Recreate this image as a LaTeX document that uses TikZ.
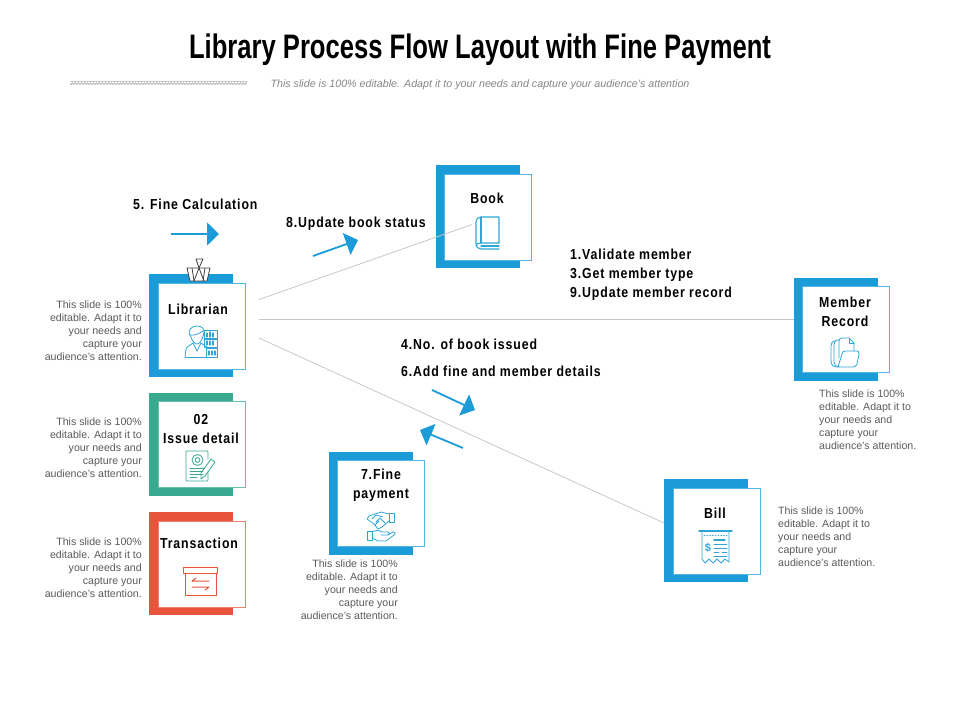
\documentclass[tikz,border=0pt]{standalone}
\usepackage{fontspec}
\usetikzlibrary{arrows.meta,calc}
\setmainfont{Liberation Sans}
\newfontfamily\condfont[FakeStretch=0.85,LetterSpace=6,BoldFont={Liberation Sans Bold}]{Liberation Sans}
\newfontfamily\titlefont[FakeStretch=0.753,BoldFont={Liberation Sans Bold}]{Liberation Sans}
\definecolor{cardblue}{HTML}{1B9BD8}
\definecolor{cardteal}{HTML}{3AA98F}
\definecolor{cardred}{HTML}{E8533C}
\definecolor{iconblue}{HTML}{2FA5D6}
\definecolor{bodygray}{HTML}{5A5A5A}
\tikzset{
  x=1pt,y=-1pt,
  backcard/.style={rectangle,draw=none,minimum width=84pt,minimum height=103pt,anchor=north west,inner sep=0pt},
  frontcard/.style={rectangle,fill=white,line width=0.8pt,minimum width=87pt,minimum height=86pt,anchor=north west,inner sep=0pt},
  cardtext/.style={font=\condfont\bfseries\fontsize{14.5}{19}\selectfont,text=black,align=center,inner sep=0pt},
  steplabel/.style={font=\condfont\bfseries\fontsize{14.5}{19}\selectfont,text=black,anchor=west,inner sep=0pt},
  body/.style={font=\fontsize{10.6}{13}\selectfont,text=bodygray,inner sep=0pt},
  bodyr/.style={body,align=right,anchor=north east},
  bodyl/.style={body,align=left,anchor=north west},
  link/.style={draw=black!22,line width=0.8pt},
  flow/.style={draw=cardblue,line width=1.8pt,-{Triangle[length=12pt,width=23pt]}},
  icon/.style={draw=iconblue,line width=0.8pt,line join=round,line cap=round,fill=none},
  iconteal/.style={icon,draw=cardteal},
  iconred/.style={icon,draw=cardred,line width=1pt},
}
\newcommand{\Card}[6]{%
  \node[backcard,fill=#2] (#1back) at (#3,#4) {};
  \node[frontcard,draw=#2!75] (#1front) at (#5,#6) {};
}
\begin{document}
\begin{tikzpicture}
\useasboundingbox (0,0) rectangle (960,720);
% header
\node[inner sep=0pt,font=\titlefont\bfseries\fontsize{34}{38}\selectfont] (title) at (480,50) {Library Process Flow Layout with Fine Payment};
\node[inner sep=0pt,font=\itshape\fontsize{10.7}{12}\selectfont,text=black!48] (subtitle) at (480,85) {This slide is 100\% editable. Adapt it to your needs and capture your audience's attention};
\coordinate (stripL) at (70,83);
\coordinate (stripR) at (247,83);
\draw[draw=black!22,line width=4pt] (stripL) -- (stripR);
\draw[draw=white,line width=1pt,dash pattern=on 1.5pt off 1.5pt] ($(stripL)+(0,-1)$) -- ($(stripR)+(0,-1)$);
\draw[draw=white,line width=1pt,dash pattern=on 1.5pt off 1.5pt,dash phase=1.5pt] ($(stripL)+(0,1)$) -- ($(stripR)+(0,1)$);
% cards
\Card{lib}{cardblue}{149}{274}{158}{283}
\Card{iss}{cardteal}{149}{393}{158}{401}
\Card{tra}{cardred}{149}{512}{158}{521}
\Card{fin}{cardblue}{329}{452}{337}{460}
\Card{boo}{cardblue}{436}{165}{444}{174}
\Card{mem}{cardblue}{794}{278}{802}{286}
\Card{bil}{cardblue}{664}{479}{673}{488}
% connectors
\coordinate (la) at (259,299.5);
\coordinate (lb) at (259,319.6);
\coordinate (lc) at (259,338);
\coordinate (endbook) at (472,224.5);
\coordinate (endbill) at (664,523);
\draw[link] (la) -- (endbook);
\draw[link] (lb) -- (lb -| memback.west);
\draw[link] (lc) -- (endbill);
% card texts
\node[cardtext] (tlib) at (198,309) {Librarian};
\node[cardtext] (tiss) at (201,429.5) {02\\Issue detail};
\node[cardtext] (ttra) at (199,543) {Transaction};
\node[cardtext] (tfin) at (381,485) {7.Fine\\payment};
\node[cardtext] (tboo) at (487,198) {Book};
\node[cardtext] (tmem) at (845,311.5) {Member\\Record};
\node[cardtext] (tbil) at (715,513) {Bill};
% step labels
\node[steplabel] (s5) at (133,204) {5. Fine Calculation};
\node[steplabel] (s8) at (286,223.5) {8.Update book status};
\node[steplabel,align=left] (s1) at (570,274.5) {1.Validate member\\3.Get member type\\9.Update member record};
\node[steplabel] (s4) at (401,344) {4.No. of book issued};
\node[steplabel] (s6) at (401,371) {6.Add fine and member details};
% flow arrows
\coordinate (a5s) at (171,234); \coordinate (a5e) at (219,234);
\coordinate (a8s) at (313,256); \coordinate (a8e) at (358,240);
\coordinate (a4s) at (432,390); \coordinate (a4e) at (475,410);
\coordinate (a7s) at (463,448); \coordinate (a7e) at (420,430);
\draw[flow] (a5s) -- (a5e);
\draw[flow] (a8s) -- (a8e);
\draw[flow] (a4s) -- (a4e);
\draw[flow] (a7s) -- (a7e);
% body texts
\newcommand{\bodytxt}{This slide is 100\%\\editable. Adapt it to\\your needs and\\capture your\\audience's attention.}
\node[bodyr] (b1) at (142,300.5) {\bodytxt};
\node[bodyr] (b2) at (142,417.5) {\bodytxt};
\node[bodyr] (b3) at (142,537.5) {\bodytxt};
\node[bodyr] (b4) at (398,559.5) {\bodytxt};
\node[bodyl] (b5) at (819,389.5) {\bodytxt};
\node[bodyl] (b6) at (778,506.5) {\bodytxt};
% binder clip
\draw[draw=black!75,line width=0.8pt,fill=white,line join=round] (190,281) -- (187,268) -- (210,268) -- (207,281) -- cycle;
\draw[draw=black!75,line width=0.8pt,line join=round] (194,281) -- (199,268) -- (196,259) -- (203,259) -- (199,268) -- (204,281);
\draw[draw=black!75,line width=0.8pt] (192,268) -- (194,281) (205,268) -- (203,281);
% book icon
\draw[icon,line width=1.1pt] (499,243) -- (499,217) -- (481,217) .. controls (478,217) and (476,219) .. (476,222) -- (476,244) .. controls (476,247) and (478,249) .. (481,249) -- (499,249);
\draw[icon,line width=1.1pt] (499,243) -- (481,243) .. controls (478,243) and (476,244) .. (476,246);
\draw[icon,line width=1.1pt] (481,217) -- (481,243) (481,246) -- (499,246);
% folder icon
\draw[icon] (836,341) .. controls (832,341) and (831,343) .. (831,346) -- (831,360) .. controls (831,365) and (833,367) .. (837,367);
\draw[icon] (839,340) .. controls (835,340) and (834,342) .. (834,345) -- (834,362) .. controls (834,365) and (836,367) .. (839,367);
\draw[icon] (839,358) -- (839,341) .. controls (839,339) and (840,338) .. (842,338) -- (849,338) -- (854,343) -- (854,351);
\draw[icon] (849,338) -- (849,343) -- (854,343);
\draw[icon] (838,367) -- (853,367) .. controls (855,367) and (856,366) .. (857,364) -- (859,354) .. controls (859,352) and (858,351) .. (857,351) -- (845,351) .. controls (843,351) and (842,352) .. (842,354) -- (838,367);
% bill icon
\draw[icon,line width=1.1pt] (699,531) -- (732,531);
\draw[icon] (702,531) -- (702,559) -- (705,563) -- (709,559) -- (713,563) -- (717,559) -- (721,563) -- (725,559) -- (729,562) -- (729,531);
\draw[icon,dotted] (704,535) -- (727,535);
\node[inner sep=0pt,font=\bfseries\fontsize{11}{12}\selectfont,text=iconblue] (dollar) at (708,548) {\$};
\draw[icon,line width=1.4pt] (714,540) -- (725,540);
\draw[icon] (714,544) -- (727,544) (714,548) -- (727,548) (714,552) -- (719,552) (722,552) -- (727,552) (714,556) -- (727,556);
% librarian icon
\draw[icon] (191,337) .. controls (186,330) and (192,326) .. (197,326) .. controls (202,326) and (206,329) .. (203,336) .. controls (202,341) and (199,344) .. (197,344) .. controls (195,344) and (192,341) .. (191,337) -- cycle;
\draw[icon] (190,335) .. controls (195,336) and (200,333) .. (203,331);
\draw[icon] (185,357) -- (186,349) .. controls (187,346) and (191,345) .. (193,343) -- (197,351) -- (201,343) .. controls (203,345) and (206,346) .. (207,347);
\draw[icon] (185,357) -- (208,357);
\draw[icon] (204,330) rectangle (217,338) (204,339) rectangle (217,347) (206,348) rectangle (217,357);
\draw[icon,line width=1.2pt] (207,337) -- (207,333) (210,337) -- (210,332) (213,337) -- (213,333) (207,345) -- (207,341) (210,345) -- (210,341) (213,345) -- (213,341) (209,355) -- (209,351) (212,355) -- (212,351) (215,355) -- (215,351);
% issue icon
\draw[iconteal] (208,459) -- (208,452) .. controls (208,451) and (207,451) .. (206,451) -- (188,451) .. controls (187,451) and (186,451) .. (186,452) -- (186,480) .. controls (186,481) and (187,481) .. (188,481) -- (206,481) .. controls (207,481) and (208,481) .. (208,480) -- (208,472);
\draw[iconteal] (197.5,460) circle (5.5);
\draw[iconteal] (197.5,460) circle (2.4);
\draw[iconteal] (190,468) -- (204,468) (190,471) -- (203,471) (190,474) -- (203,474) (190,477) -- (197,477);
\draw[iconteal] (211,459) -- (215,462) -- (205,476) -- (201,479) -- (201,473) -- cycle;
% transaction icon
\draw[iconred] (183,567) rectangle (217,573);
\draw[iconred] (185,573) -- (185,595) -- (216,595) -- (216,573);
\draw[iconred] (192,581) -- (209,581) (192,581) -- (196,578);
\draw[iconred] (209,587) -- (192,587) (209,587) -- (205,590);
% handshake icon
\draw[icon] (367,531) rectangle (372,540);
\draw[icon] (372,532) .. controls (376,530) and (379,530) .. (382,532) -- (388,532) .. controls (390,532) and (390,535) .. (388,535) -- (381,535) (388,535) -- (393,532) .. controls (395,531) and (396,533) .. (394,535) -- (386,541) -- (378,541) -- (372,538);
\draw[icon] (389,513) rectangle (394,522);
\draw[icon] (389,514) -- (381,512) -- (369,516) -- (367,519) -- (374,524) -- (378,529) -- (382,527) -- (389,521);
\draw[icon] (372,519) -- (376,515) -- (383,517) (376,522) -- (380,518) -- (385,523) (375,525) -- (379,521);
\end{tikzpicture}
\end{document}
